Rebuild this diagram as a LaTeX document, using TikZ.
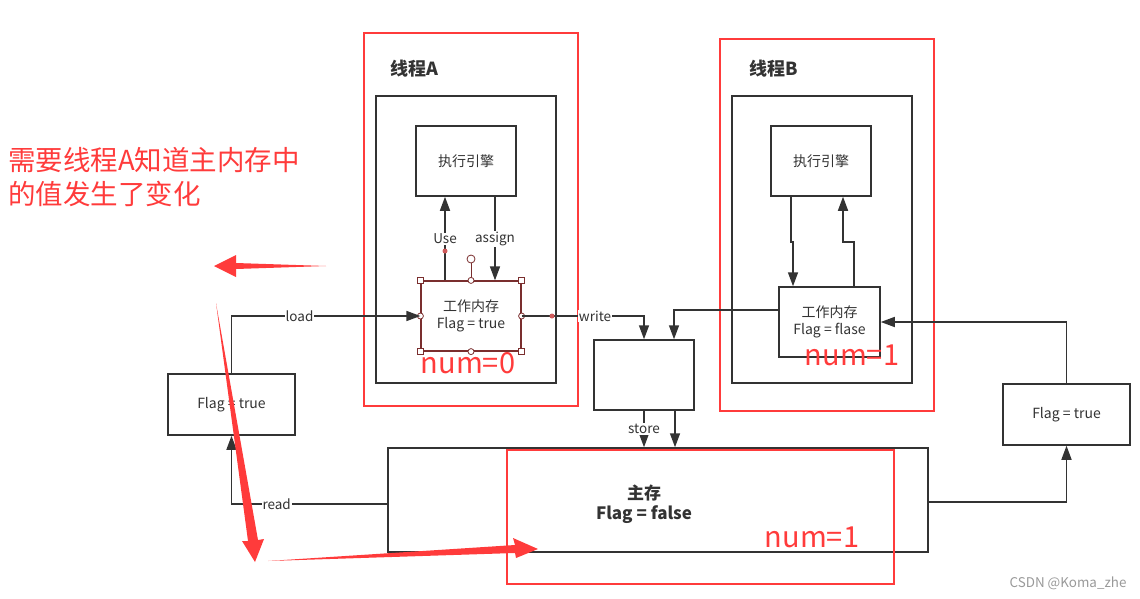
\documentclass[tikz,border=0pt]{standalone}
\usepackage{fontspec}
\setmainfont{Noto Sans CJK SC}
\usetikzlibrary{arrows.meta}
\definecolor{hot}{HTML}{FF3B3B}
\definecolor{ink}{HTML}{333333}
\definecolor{grip}{HTML}{7A2E2E}
\definecolor{dotred}{HTML}{D05A5A}

\begin{document}
\begin{tikzpicture}[x=1pt,y=-1pt,
      every node/.style={font=\fontsize{14}{17}\selectfont,text=ink,inner sep=0pt},
      box/.style={draw=ink,line width=1.5pt,align=center},
      thread/.style={draw=hot,line width=2.3pt},
      flow/.style={draw=ink,line width=1.5pt,-{Triangle[length=14pt,width=10pt]}},
      lbl/.style={fill=white,inner sep=1pt,font=\fontsize{13.5}{16}\selectfont},
      note/.style={text=hot,anchor=west,font=\fontsize{27.5}{32}\selectfont},
      bignum/.style={text=hot,font=\fontsize{29}{34}\selectfont},
      corner/.style={draw=grip,fill=white,line width=0.8pt,minimum size=6pt},
      knob/.style={draw=grip,fill=white,circle,line width=0.8pt,minimum size=6pt},
      tip/.style={fill=hot,draw=none}]
    \useasboundingbox (0,0) rectangle (1140,598);

    % thread A
    \node[thread,minimum width=214pt,minimum height=373pt] (thrA) at (471,219.5) {};
    \node[font=\bfseries\fontsize{18}{20}\selectfont] (nameA) at (414,69) {线程A};
    \node[box,minimum width=180pt,minimum height=287pt] (inA) at (466,239.5) {};
    \node[box,minimum width=100pt,minimum height=70pt] (engA) at (466,161) {执行引擎};
    \node[box,draw=grip,line width=1.2pt,minimum width=100pt,minimum height=70pt] (workA) at (471,316)
      {工作内存\\Flag = true};

    % thread B
    \node[thread,minimum width=214pt,minimum height=372pt] (thrB) at (827,225) {};
    \node[font=\bfseries\fontsize{18}{20}\selectfont] (nameB) at (774,69) {线程B};
    \node[box,minimum width=180pt,minimum height=287pt] (inB) at (822,239.5) {};
    \node[box,minimum width=100pt,minimum height=70pt] (engB) at (821,161) {执行引擎};
    \node[box,minimum width=101pt,minimum height=70pt] (workB) at (829.5,322)
      {工作内存\\Flag = flase};

    % memory
    \node[box,minimum width=127pt,minimum height=61pt] (flagL) at (231.5,404.5) {Flag = true};
    \node[box,minimum width=127pt,minimum height=61pt] (flagR) at (1066.5,414.5) {Flag = true};
    \node[box,minimum width=100pt,minimum height=70pt] (mid) at (644,375) {};
    \node[box,minimum width=540pt,minimum height=104pt] (mainM) at (658,500) {};
    \node[align=center,font=\bfseries\fontsize{17}{20}\selectfont] (mainTxt) at (644,504) {主存\\Flag = false};
    \node[thread,minimum width=387pt,minimum height=134pt] (mainR) at (700.5,517) {};

    % handles on selected box
    \foreach \a in {north west,north east,south west,south east}
      \node[corner] (h-\a) at (workA.\a) {};
    \foreach \a in {north,south,east,west}
      \node[knob] (k-\a) at (workA.\a) {};
    \draw[grip,line width=0.8pt] (k-north) -- ++(0,-17) node[knob,minimum size=8pt,anchor=south] (k-top) {};

    % thread A flows
    \draw[flow] ([xshift=-26pt]workA.north) coordinate (useA) -- node[lbl] {Use} (useA |- engA.south);
    \draw[flow] ([xshift=29pt]engA.south) coordinate (asgA) -- node[lbl] {assign} (asgA |- workA.north);
    \fill[dotred] (445,251) circle (2.5pt);
    \draw[flow] (flagL.north) |- node[lbl,pos=0.68] {load} (workA.west);
    \draw[flow] (workA.east) -| node[lbl,pos=0.3] {write} (mid.north);
    \fill[dotred] (552,316) circle (2.5pt);

    % thread B flows
    \draw[flow] ([xshift=-30pt]engB.south) -- ++(0,45) -- ++(2,0) coordinate (jogB) -- (jogB |- workB.north);
    \coordinate (upB) at (843,242);
    \draw[flow] ([xshift=24.5pt]workB.north) |- (upB) -- (upB |- engB.south);
    \draw[flow] ([yshift=12pt]workB.west) -| ([xshift=30pt]mid.north);
    \draw[flow] (flagR.north) |- (workB.east);

    % store / read
    \draw[flow] (mid.south) -- node[lbl] {store} (mid.south |- mainM.north);
    \draw[flow] ([xshift=31pt]mid.south) -- ([xshift=31pt]mid.south |- mainM.north);
    \draw[flow] ([yshift=-4pt]mainM.west) -| node[lbl,pos=0.355] {read} (flagL.south);
    \draw[flow] ([yshift=-2pt]mainM.east) -| (flagR.south);

    % red notes
    \node[bignum] (numA) at (468,363) {num=0};
    \node[bignum] (numB) at (852,355) {num=1};
    \node[bignum] (numM) at (812,537) {num=1};
    \node[note] (ask1) at (8,160) {需要线程A知道主内存中};
    \node[note] (ask2) at (8,194) {的值发生了变化};
    \fill[tip] (326,266) -- (236,263) -- (236,255) -- (214,266) -- (236,277) -- (236,269) -- cycle;
    \fill[tip] (216,303) -- (258,540) -- (264,539) -- (255,562) -- (242,541) -- (248,541) -- cycle;
    \fill[tip] (268,561) -- (515,545) -- (513,538) -- (538,549) -- (516,558) -- (515,553) -- cycle;

    \node[text=gray!80,font=\fontsize{13.4}{15}\selectfont] (mark) at (1068,583) {CSDN @Koma\_zhe};
  \end{tikzpicture}
\end{document}
